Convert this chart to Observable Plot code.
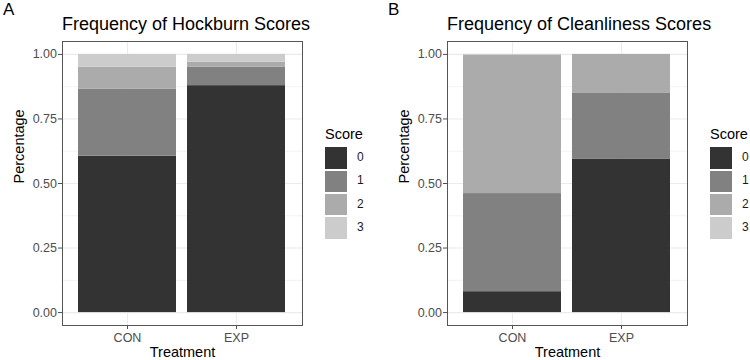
<!DOCTYPE html>
<html>
<head>
<meta charset="utf-8">
<script src="https://cdn.jsdelivr.net/npm/d3@7"></script>
<script src="https://cdn.jsdelivr.net/npm/@observablehq/plot@0.6"></script>
<style>
  html, body { margin: 0; padding: 0; background: #fff; }
  #root { position: relative; width: 750px; height: 360px; overflow: hidden;
          font-family: "Liberation Sans", Arial, sans-serif; background: #fff; }
  .abs { position: absolute; white-space: nowrap; line-height: 1.15; }
  .tag { font-size: 17px; color: #000; }
  .title { font-size: 18px; color: #000; }
  .legend-title { font-size: 14.5px; color: #000; }
  .key-row { position: absolute; display: flex; align-items: center; }
  .key { width: 22px; height: 21.6px; }
  .key-label { font-size: 12px; color: #1a1a1a; margin-left: 10px; }
</style>
</head>
<body>
<div id="root"></div>
<script>
// Categories and score levels
const treatments = ["CON", "EXP"];
const scores = ["0", "1", "2", "3"];
const scoreFills = ["#333333", "#818181", "#ABABAB", "#CCCCCC"];

// Proportion of each score (0..3) per treatment
const hockburnCON = [0.606, 0.260, 0.084, 0.050];
const hockburnEXP = [0.879, 0.071, 0.020, 0.030];
const cleanlinessCON = [0.081, 0.380, 0.535, 0.004];
const cleanlinessEXP = [0.595, 0.256, 0.149, 0.000];

// Axis ticks and grid positions
const yTicks = [0, 0.25, 0.5, 0.75, 1];
const yMinor = [0.125, 0.375, 0.625, 0.875];

const titles = ["Frequency of Hockburn Scores", "Frequency of Cleanliness Scores"];
const tags = ["A", "B"];

function toRows(con, exp) {
  const byTreatment = [con, exp];
  return treatments.flatMap((t, i) =>
    scores.map((s, j) => ({treatment: t, score: s, value: byTreatment[i][j]})));
}

function panel(rows) {
  return Plot.plot({
    width: 310,
    height: 360,
    marginLeft: 62,
    marginRight: 8,
    marginTop: 41,
    marginBottom: 35,
    style: {fontFamily: '"Liberation Sans", Arial, sans-serif', color: "#4d4d4d", background: "transparent"},
    x: {domain: treatments, paddingInner: 0.1, paddingOuter: 0.15},
    y: {domain: [-0.05, 1.05]},
    color: {domain: scores, range: scoreFills},
    marks: [
      Plot.ruleY(yMinor, {stroke: "#ebebeb", strokeWidth: 0.6}),
      Plot.ruleY(yTicks, {stroke: "#ebebeb", strokeWidth: 1.1}),
      Plot.gridX({stroke: "#ebebeb", strokeOpacity: 1, strokeWidth: 1.1}),
      Plot.barY(rows, {x: "treatment", y: "value", fill: "score"}),
      Plot.axisY(yTicks, {tickFormat: d3.format(".2f"), tickSize: 4, tickPadding: 1.5, fontSize: 12.5, label: null}),
      Plot.axisX({tickSize: 4, tickPadding: 4, fontSize: 12.5, label: null}),
      Plot.text(["Percentage"], {text: d => d, frameAnchor: "left", rotate: -90, dx: -43, fontSize: 14.5, fill: "#000"}),
      Plot.text(["Treatment"], {text: d => d, frameAnchor: "bottom", dy: 31, fontSize: 14.5, fill: "#000"}),
      Plot.frame({stroke: "#555555", strokeWidth: 1})
    ]
  });
}

function legend(left) {
  const box = document.createElement("div");
  box.className = "abs";
  box.style.left = left + "px";
  box.style.top = "0px";
  const title = document.createElement("div");
  title.className = "abs legend-title";
  title.textContent = "Score";
  title.style.left = "0px";
  title.style.top = "126px";
  box.appendChild(title);
  scores.forEach((s, i) => {
    const row = document.createElement("div");
    row.className = "key-row";
    row.style.left = "0px";
    row.style.top = (147.3 + i * 23.3) + "px";
    const key = document.createElement("div");
    key.className = "key";
    key.style.background = scoreFills[i];
    const lab = document.createElement("span");
    lab.className = "key-label";
    lab.textContent = s;
    row.appendChild(key);
    row.appendChild(lab);
    box.appendChild(row);
  });
  return box;
}

const root = document.getElementById("root");
const datasets = [toRows(hockburnCON, hockburnEXP), toRows(cleanlinessCON, cleanlinessEXP)];
const offsets = [0, 385];

datasets.forEach((rows, k) => {
  const ox = offsets[k];
  const chart = panel(rows);
  chart.style.position = "absolute";
  chart.style.left = ox + "px";
  chart.style.top = "0px";
  root.appendChild(chart);

  const tag = document.createElement("div");
  tag.className = "abs tag";
  tag.textContent = tags[k];
  tag.style.left = (ox + 3) + "px";
  tag.style.top = "0px";
  root.appendChild(tag);

  const title = document.createElement("div");
  title.className = "abs title";
  title.textContent = titles[k];
  title.style.left = (ox + 62) + "px";
  title.style.top = "14px";
  root.appendChild(title);

  root.appendChild(legend(ox + 325));
});
</script>
</body>
</html>
